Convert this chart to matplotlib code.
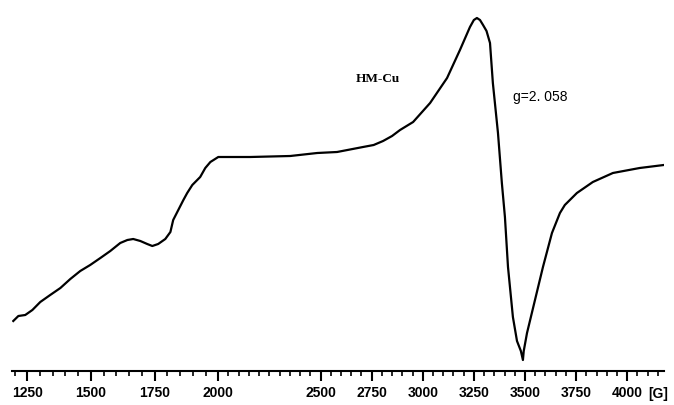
import numpy as np
import matplotlib
matplotlib.use("Agg")
import matplotlib.pyplot as plt
import matplotlib.ticker as mtick

# EPR spectrum of HM-Cu, field in gauss, signal in arbitrary units
campo = [1195, 1215, 1242, 1270, 1301, 1340, 1380, 1419, 1458, 1497, 1537, 1576,
         1615, 1643, 1666, 1694, 1721, 1741, 1764, 1792, 1812, 1823, 1843, 1863,
         1878, 1898, 1929, 1949, 1969, 2000, 2156, 2352, 2484, 2581, 2708, 2760,
         2806, 2850, 2889, 2953, 3036, 3119, 3182, 3231, 3250, 3265, 3280, 3295,
         3312, 3329, 3343, 3368, 3387, 3402, 3417, 3441, 3461, 3480, 3490, 3494,
         3510, 3549, 3588, 3632, 3671, 3695, 3754, 3832, 3930, 4061, 4179]
sinal = [50, 55, 56, 61, 69, 76, 83, 92, 100, 106, 113, 120,
         128, 131, 132, 130, 127, 125, 127, 132, 139, 151, 161, 171,
         178, 186, 194, 203, 209, 214, 214, 215, 218, 219, 224, 226,
         230, 235, 241, 249, 268, 293, 321, 344, 351, 353, 351, 346,
         340, 328, 288, 238, 188, 154, 104, 54, 30, 20, 11, 20,
         38, 71, 104, 138, 158, 166, 178, 189, 198, 203, 206]

ticks_maiores = [1250, 1500, 1750, 2000, 2500, 2750, 3000, 3250, 3500, 3750, 4000]


# the field axis is stretched more below 2000 G than above it
def ida(g):
    g = np.asarray(g, dtype=float)
    return np.where(g <= 2000, (g - 2000) * 0.2547, (g - 2000) * 0.2045)


def volta(u):
    u = np.asarray(u, dtype=float)
    return np.where(u <= 0, u / 0.2547 + 2000, u / 0.2045 + 2000)


fig = plt.figure(figsize=(6.74, 4.05), dpi=100)
ax = fig.add_axes([12 / 674, 34 / 405, 652 / 674, 371 / 405])

ax.plot(campo, sinal, color="black", linewidth=1.6, solid_joinstyle="round")

ax.set_xscale("function", functions=(ida, volta))
ax.set_xlim(1190, 4180)
ax.set_ylim(0, 371)

ax.xaxis.set_major_locator(mtick.FixedLocator(ticks_maiores))
ax.xaxis.set_minor_locator(mtick.MultipleLocator(50))
ax.xaxis.set_major_formatter(mtick.FormatStrFormatter("%d"))
ax.xaxis.set_minor_formatter(mtick.NullFormatter())

for lado in ["left", "top", "right"]:
    ax.spines[lado].set_visible(False)
ax.spines["bottom"].set_linewidth(1.5)
ax.set_yticks([])

ax.tick_params(axis="x", which="major", direction="out", length=7.5, width=1.5, pad=3.5)
ax.tick_params(axis="x", which="minor", direction="out", length=3.5, width=1.2)
for rotulo in ax.get_xticklabels():
    rotulo.set_family("Liberation Sans")
    rotulo.set_fontsize(10)
    rotulo.set_fontweight("bold")

ax.annotate("[G]", xy=(4150, 0), xycoords=("data", "axes fraction"),
            xytext=(0, -16.5), textcoords="offset points", ha="center", va="center",
            fontsize=10, family="Liberation Sans", fontweight="bold")

ax.text(2782, 292, "HM-Cu", ha="center", va="center", fontsize=9.5,
        family="Liberation Serif", fontweight="bold")
ax.text(3441, 274, "g=2. 058", ha="left", va="center", fontsize=10,
        family="Liberation Sans")

fig.savefig("out.png", dpi=100)
